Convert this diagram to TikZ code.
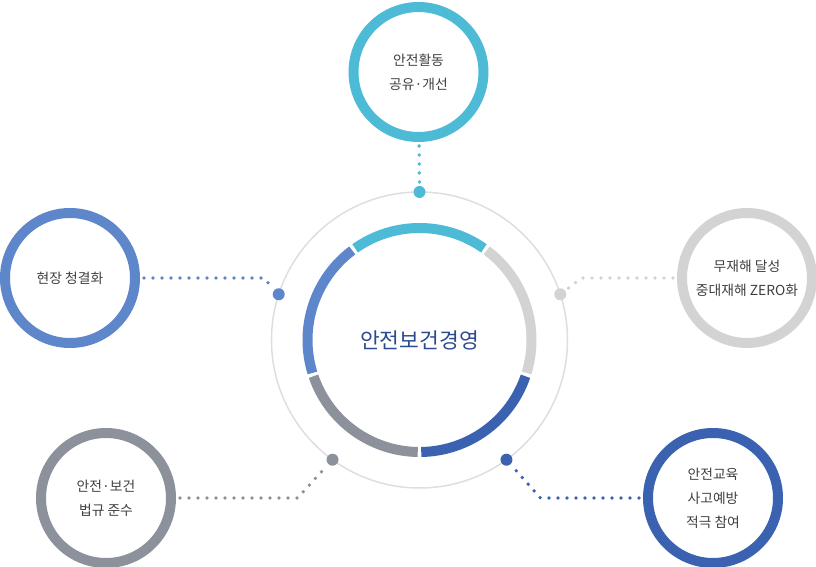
\documentclass[tikz,border=0pt]{standalone}
\usepackage{fontspec}
\setmainfont{Noto Sans CJK KR}
\definecolor{ccyan}{HTML}{4DBAD6}
\definecolor{cblue}{HTML}{5E86CB}
\definecolor{clight}{HTML}{D3D3D3}
\definecolor{cgray}{HTML}{8D919B}
\definecolor{cnavy}{HTML}{3A62B0}
\definecolor{ctitle}{HTML}{2C4A90}
\definecolor{crim}{HTML}{DEDEDE}
\definecolor{ctext}{HTML}{3F3F3F}
\begin{document}
\begin{tikzpicture}[x=1pt, y=1pt,
  sat/.style={draw=#1,circle,line width=10pt,minimum size=130pt,inner sep=0pt,align=center,
    text=ctext,font=\fontsize{13.8}{24}\selectfont},
  pin/.style={circle,inner sep=0pt,minimum size=12pt,outer sep=2pt},
  dotline/.style={line width=3.8pt,line cap=round,dash pattern=on 0pt off 9pt,shorten <=4pt},
  seg/.style={line width=10pt}]
  \useasboundingbox (-419.5,-227) rectangle (396.5,340);
  % ring and segments
  \draw[crim,line width=1.5pt] (0,0) circle (148);
  \foreach \a/\c in {54/ccyan,126/cblue,198/cgray,270/cnavy,342/clight}
    \draw[seg,\c] (\a+0.9:112) arc (\a+0.9:\a+71.1:112);
  \node[font=\fontsize{21.5}{24}\selectfont,text=ctitle] (title) at (0,0) {안전보건경영};
  % pins on the ring
  \node[pin,fill=ccyan] (dtop) at (90:148) {};
  \node[pin,fill=cblue] (dleft) at (162:148) {};
  \node[pin,fill=clight] (dright) at (18:148) {};
  \node[pin,fill=cgray] (dlow) at (234:148) {};
  \node[pin,fill=cnavy] (dnavy) at (306:148) {};
  % satellites
  \node[sat=ccyan] (share) at (-1,268) {안전활동\\공유·개선};
  \node[sat=cblue] (clean) at (-349.5,62) {현장 청결화};
  \node[sat=clight] (zero) at (327.5,62) {무재해 달성\\중대재해 ZERO화};
  \node[sat=cgray] (law) at (-313.5,-158) {안전·보건\\법규 준수};
  \node[sat=cnavy] (edu) at (293.5,-158) {안전교육\\사고예방\\적극 참여};
  \coordinate (kclean) at (-156,62);
  \coordinate (kzero) at (162,62);
  \coordinate (klaw) at (-122,-158);
  \coordinate (kedu) at (121,-158);
  % connectors
  \draw[dotline,ccyan] (share) -- (dtop);
  \draw[dotline,cblue] (clean) -- (kclean) -- (dleft);
  \draw[dotline,clight] (zero) -- (kzero) -- (dright);
  \draw[dotline,cgray] (law) -- (klaw) -- (dlow);
  \draw[dotline,cnavy] (edu) -- (kedu) -- (dnavy);
\end{tikzpicture}
\end{document}
